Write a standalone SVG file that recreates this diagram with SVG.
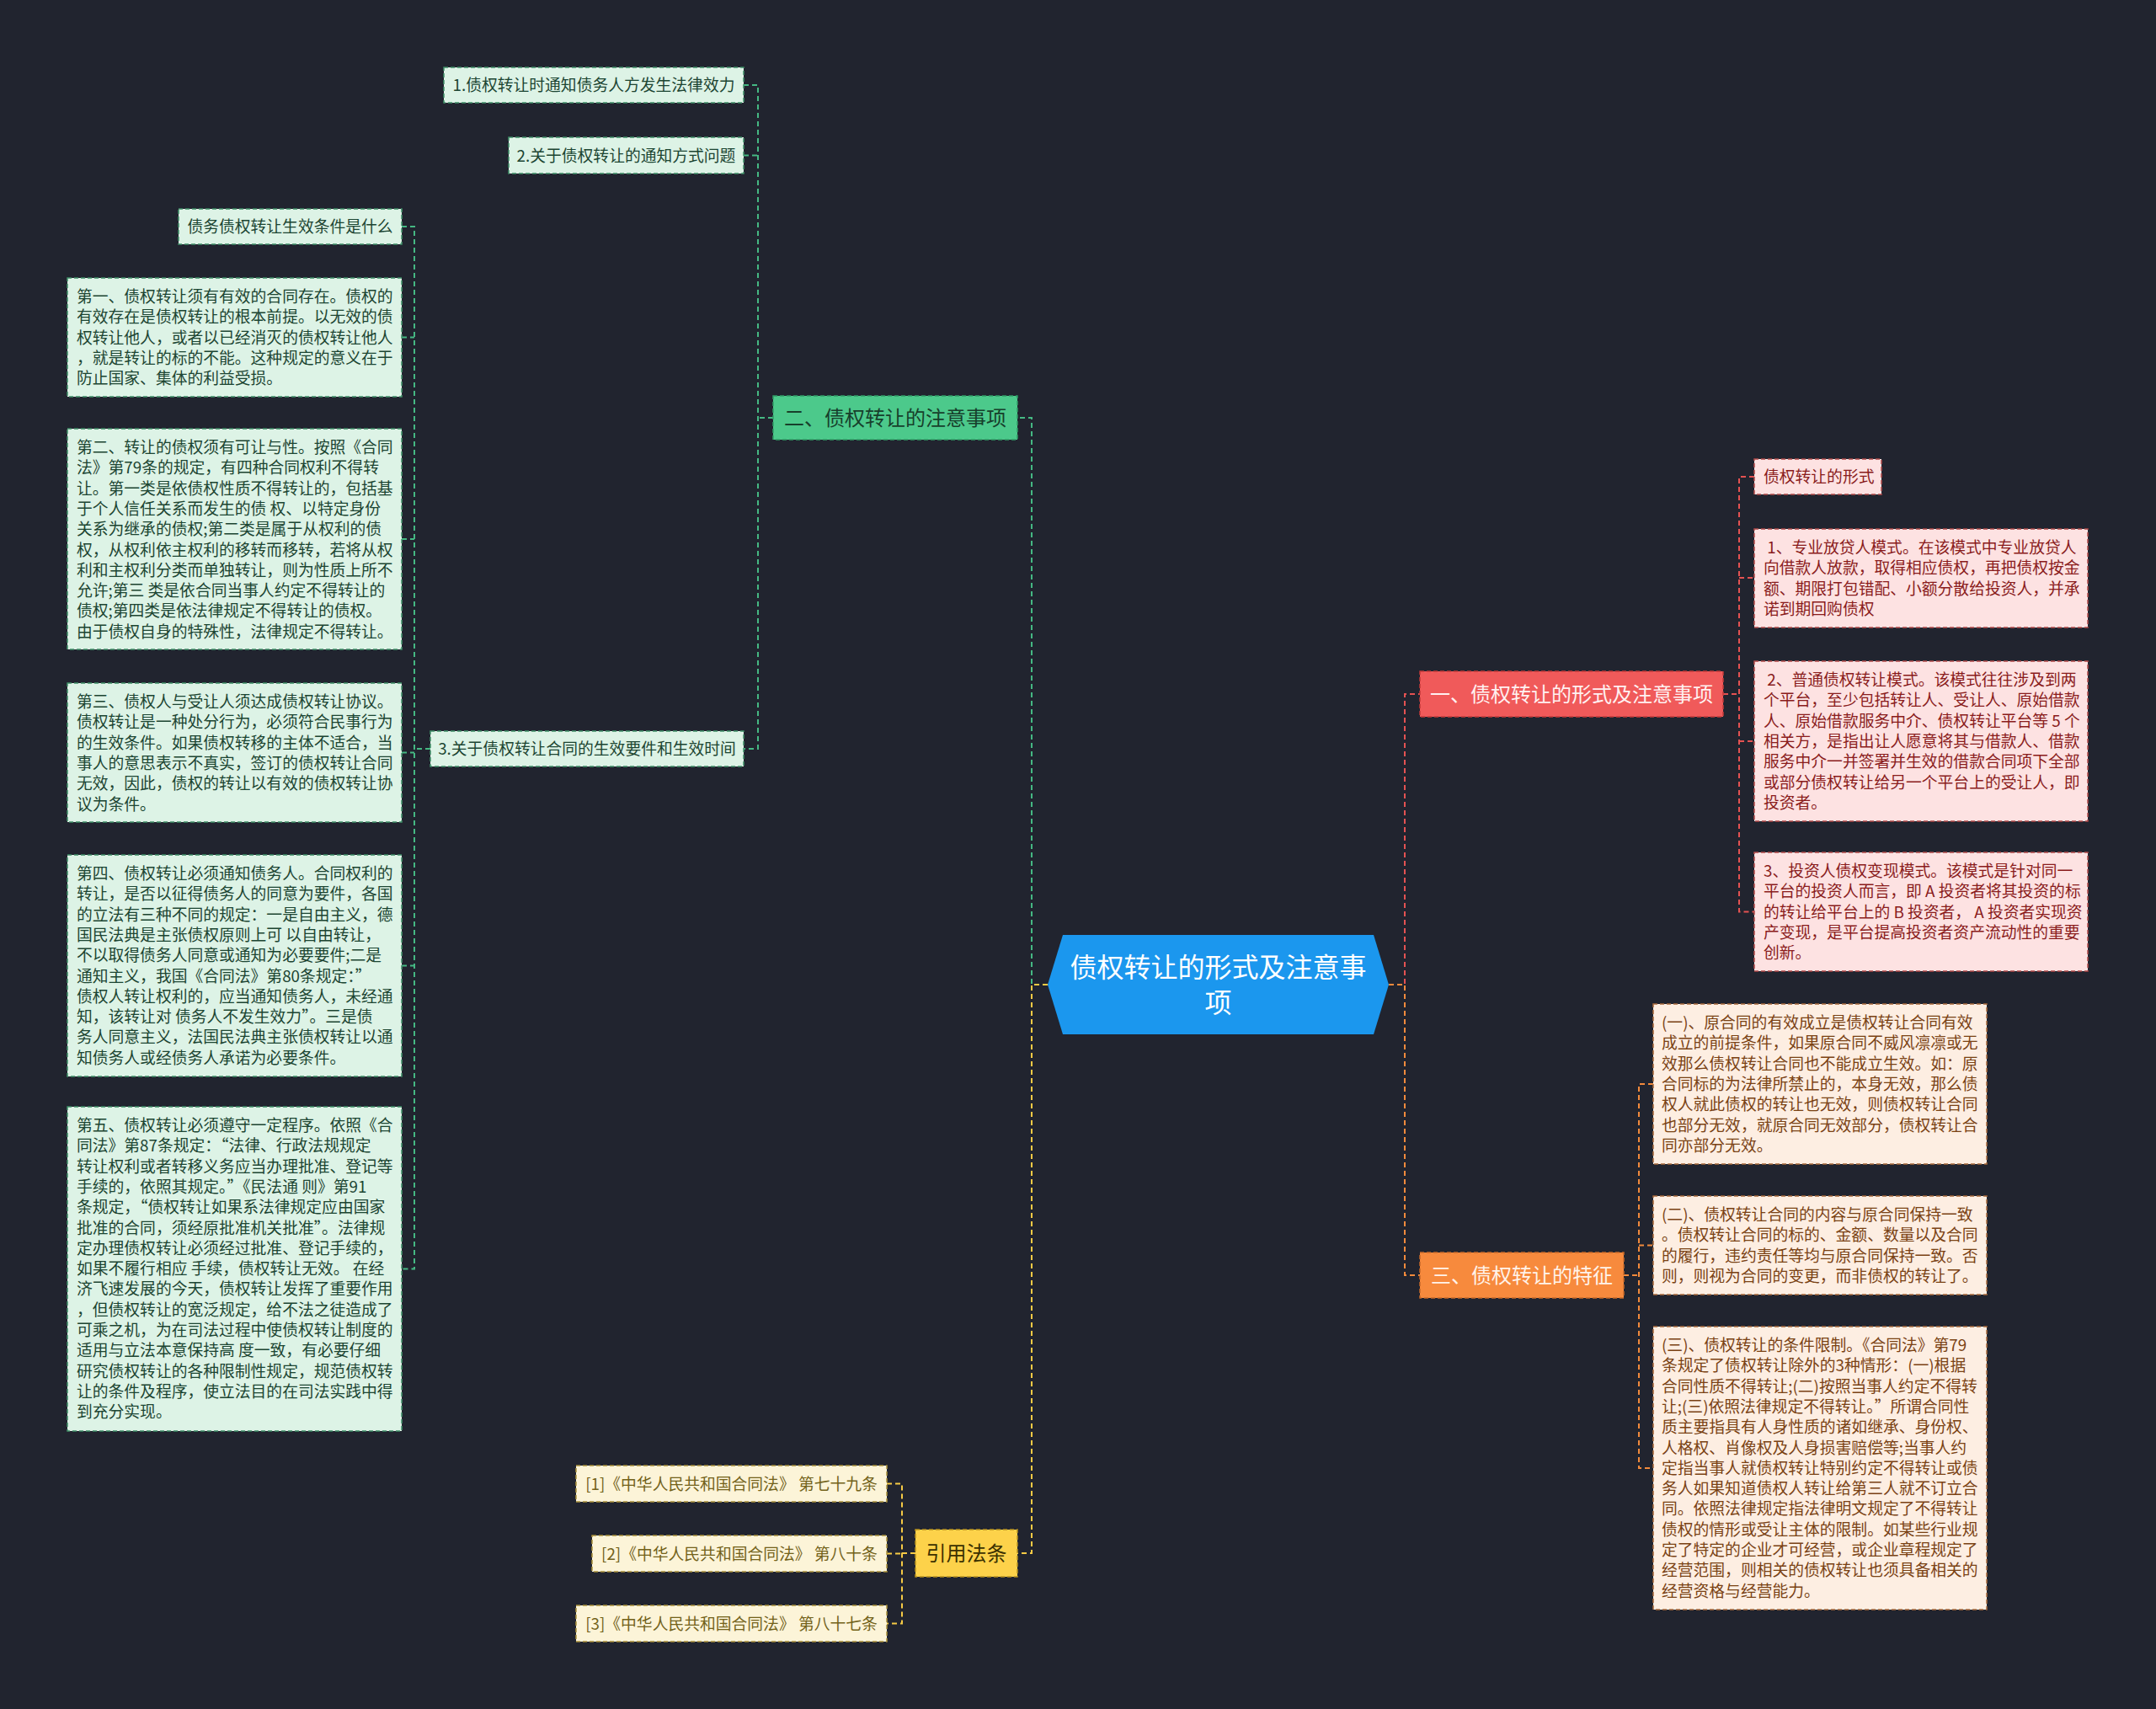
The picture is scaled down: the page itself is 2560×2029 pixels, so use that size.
<svg xmlns="http://www.w3.org/2000/svg" width="2560" height="2029" viewBox="0 0 2560 2029">
<style>
text{font-family:"Noto Sans CJK SC","Noto Sans",sans-serif;white-space:pre}
.lf{font-size:18.8px}
.br{font-size:24px}
.c{text-anchor:middle}
.gL rect{fill:#ddf3e6;stroke:#3f8f68;stroke-width:1.5;stroke-dasharray:5 3}
.gL text{fill:#1c4532}
.rL rect{fill:#fde2e2;stroke:#b04a4a;stroke-width:1.5;stroke-dasharray:5 3}
.rL text{fill:#8a1c1c}
.oL rect{fill:#fdeee2;stroke:#a86a3c;stroke-width:1.5;stroke-dasharray:5 3}
.oL text{fill:#7a4214}
.yL rect{fill:#fcf4d8;stroke:#a88f3a;stroke-width:1.5;stroke-dasharray:5 3}
.yL text{fill:#73621a}
.con path{fill:none;stroke-width:2;stroke-dasharray:6 4}
.cg{stroke:#45b883}.cr{stroke:#e45252}.co{stroke:#f28a3c}.cy{stroke:#f6ca45}
</style>
<rect x="0" y="0" width="2560" height="2029" fill="#21242f"/>

<g id="connectors" class="con">
<path class="cg" d="M1244 1169H1225V496H1208"/>
<path class="cy" d="M1244 1169H1225V1844H1208"/>
<path class="cr" d="M1649 1169H1668V824H1686"/>
<path class="co" d="M1649 1169H1668V1514H1686"/>
<path class="cg" d="M918 496H900M883 101H900V889H883M883 184.5H900"/>
<path class="cg" d="M511 889H492M477 269H492V1506.5H477M477 400.5H492M477 640H492M477 893.5H492M477 1146.5H492"/>
<path class="cr" d="M2046 824H2065M2083 566H2065V1082.5H2083M2065 686H2083M2065 880H2083"/>
<path class="co" d="M1928 1514H1946M1963 1287H1946V1743H1963M1946 1478.5H1963"/>
<path class="cy" d="M1087 1844H1071M1053 1761.5H1071V1927.5H1053M1053 1844.5H1071"/>
</g>

<g id="center">
<polygon points="1262,1110 1631,1110 1649,1169 1631,1228 1262,1228 1244,1169" fill="#1b97ee"/>
<text x="1446.5" y="1160" class="c" font-size="32" fill="#ffffff">债权转让的形式及注意事</text>
<text x="1446.5" y="1202" class="c" font-size="32" fill="#ffffff">项</text>
</g>

<g id="branch-green">
<rect x="918" y="470" width="290" height="52" fill="#4cc98b" stroke="#2f9a66" stroke-width="1.5" stroke-dasharray="5 3"/>
<text x="1063" y="505" class="br c" fill="#173f2b">二、债权转让的注意事项</text>
</g>
<g id="branch-red">
<rect x="1686" y="797" width="360" height="54" fill="#f05a5a" stroke="#c23a3a" stroke-width="1.5" stroke-dasharray="5 3"/>
<text x="1866" y="833" class="br c" fill="#fff1f1">一、债权转让的形式及注意事项</text>
</g>
<g id="branch-orange">
<rect x="1686" y="1487" width="242" height="54" fill="#f78a3d" stroke="#c8692a" stroke-width="1.5" stroke-dasharray="5 3"/>
<text x="1807" y="1523" class="br c" fill="#fff3ea">三、债权转让的特征</text>
</g>
<g id="branch-yellow">
<rect x="1087" y="1816" width="121" height="56" fill="#fdd24a" stroke="#b8931f" stroke-width="1.5" stroke-dasharray="5 3"/>
<text x="1147.5" y="1853" class="br c" fill="#3b3000">引用法条</text>
</g>

<g id="g-1" class="gL"><rect x="527" y="80" width="356" height="42"/><text x="705" y="108" class="lf c">1.债权转让时通知债务人方发生法律效力</text></g>
<g id="g-2" class="gL"><rect x="604" y="163" width="279" height="43"/><text x="743.5" y="191.5" class="lf c">2.关于债权转让的通知方式问题</text></g>
<g id="g-3" class="gL"><rect x="511" y="868" width="372" height="42"/><text x="697" y="896" class="lf c">3.关于债权转让合同的生效要件和生效时间</text></g>
<g id="g-q" class="gL"><rect x="212" y="248" width="265" height="42"/><text x="344.5" y="276" class="lf c">债务债权转让生效条件是什么</text></g>

<g id="g-b1" class="gL"><rect x="80" y="330" width="397" height="141"/>
<text class="lf" x="91" y="359"><tspan x="91">第一、债权转让须有有效的合同存在。债权的</tspan><tspan x="91" dy="24.3">有效存在是债权转让的根本前提。以无效的债</tspan><tspan x="91" dy="24.3">权转让他人，或者以已经消灭的债权转让他人</tspan><tspan x="91" dy="24.3">，就是转让的标的不能。这种规定的意义在于</tspan><tspan x="91" dy="24.3">防止国家、集体的利益受损。</tspan></text></g>

<g id="g-b2" class="gL"><rect x="80" y="509" width="397" height="262"/>
<text class="lf" x="91" y="538"><tspan x="91">第二、转让的债权须有可让与性。按照《合同</tspan><tspan x="91" dy="24.3">法》第79条的规定，有四种合同权利不得转</tspan><tspan x="91" dy="24.3">让。第一类是依债权性质不得转让的，包括基</tspan><tspan x="91" dy="24.3">于个人信任关系而发生的债 权、以特定身份</tspan><tspan x="91" dy="24.3">关系为继承的债权;第二类是属于从权利的债</tspan><tspan x="91" dy="24.3">权，从权利依主权利的移转而移转，若将从权</tspan><tspan x="91" dy="24.3">利和主权利分类而单独转让，则为性质上所不</tspan><tspan x="91" dy="24.3">允许;第三 类是依合同当事人约定不得转让的</tspan><tspan x="91" dy="24.3">债权;第四类是依法律规定不得转让的债权。</tspan><tspan x="91" dy="24.3">由于债权自身的特殊性，法律规定不得转让。</tspan></text></g>

<g id="g-b3" class="gL"><rect x="80" y="811" width="397" height="165"/>
<text class="lf" x="91" y="840"><tspan x="91">第三、债权人与受让人须达成债权转让协议。</tspan><tspan x="91" dy="24.3">债权转让是一种处分行为，必须符合民事行为</tspan><tspan x="91" dy="24.3">的生效条件。如果债权转移的主体不适合，当</tspan><tspan x="91" dy="24.3">事人的意思表示不真实，签订的债权转让合同</tspan><tspan x="91" dy="24.3">无效，因此，债权的转让以有效的债权转让协</tspan><tspan x="91" dy="24.3">议为条件。</tspan></text></g>

<g id="g-b4" class="gL"><rect x="80" y="1015" width="397" height="263"/>
<text class="lf" x="91" y="1044"><tspan x="91">第四、债权转让必须通知债务人。合同权利的</tspan><tspan x="91" dy="24.3">转让，是否以征得债务人的同意为要件，各国</tspan><tspan x="91" dy="24.3">的立法有三种不同的规定：一是自由主义，德</tspan><tspan x="91" dy="24.3">国民法典是主张债权原则上可 以自由转让，</tspan><tspan x="91" dy="24.3">不以取得债务人同意或通知为必要要件;二是</tspan><tspan x="91" dy="24.3">通知主义，我国《合同法》第80条规定：”</tspan><tspan x="91" dy="24.3">债权人转让权利的，应当通知债务人，未经通</tspan><tspan x="91" dy="24.3">知，该转让对 债务人不发生效力”。三是债</tspan><tspan x="91" dy="24.3">务人同意主义，法国民法典主张债权转让以通</tspan><tspan x="91" dy="24.3">知债务人或经债务人承诺为必要条件。</tspan></text></g>

<g id="g-b5" class="gL"><rect x="80" y="1314" width="397" height="385"/>
<text class="lf" x="91" y="1343"><tspan x="91">第五、债权转让必须遵守一定程序。依照《合</tspan><tspan x="91" dy="24.3">同法》第87条规定：“法律、行政法规规定</tspan><tspan x="91" dy="24.3">转让权利或者转移义务应当办理批准、登记等</tspan><tspan x="91" dy="24.3">手续的，依照其规定。”《民法通 则》第91</tspan><tspan x="91" dy="24.3">条规定，“债权转让如果系法律规定应由国家</tspan><tspan x="91" dy="24.3">批准的合同，须经原批准机关批准”。法律规</tspan><tspan x="91" dy="24.3">定办理债权转让必须经过批准、登记手续的，</tspan><tspan x="91" dy="24.3">如果不履行相应 手续，债权转让无效。 在经</tspan><tspan x="91" dy="24.3">济飞速发展的今天，债权转让发挥了重要作用</tspan><tspan x="91" dy="24.3">，但债权转让的宽泛规定，给不法之徒造成了</tspan><tspan x="91" dy="24.3">可乘之机，为在司法过程中使债权转让制度的</tspan><tspan x="91" dy="24.3">适用与立法本意保持高 度一致，有必要仔细</tspan><tspan x="91" dy="24.3">研究债权转让的各种限制性规定，规范债权转</tspan><tspan x="91" dy="24.3">让的条件及程序，使立法目的在司法实践中得</tspan><tspan x="91" dy="24.3">到充分实现。</tspan></text></g>

<g id="r-0" class="rL"><rect x="2083" y="545" width="151" height="42"/><text x="2094" y="573" class="lf">债权转让的形式</text></g>

<g id="r-1" class="rL"><rect x="2083" y="628" width="396" height="117"/>
<text class="lf" x="2094" y="657"><tspan x="2094"> 1、专业放贷人模式。在该模式中专业放贷人</tspan><tspan x="2094" dy="24.3">向借款人放款，取得相应债权，再把债权按金</tspan><tspan x="2094" dy="24.3">额、期限打包错配、小额分散给投资人，并承</tspan><tspan x="2094" dy="24.3">诺到期回购债权</tspan></text></g>

<g id="r-2" class="rL"><rect x="2083" y="785" width="396" height="190"/>
<text class="lf" x="2094" y="814"><tspan x="2094"> 2、普通债权转让模式。该模式往往涉及到两</tspan><tspan x="2094" dy="24.3">个平台，至少包括转让人、受让人、原始借款</tspan><tspan x="2094" dy="24.3">人、原始借款服务中介、债权转让平台等 5 个</tspan><tspan x="2094" dy="24.3">相关方，是指出让人愿意将其与借款人、借款</tspan><tspan x="2094" dy="24.3">服务中介一并签署并生效的借款合同项下全部</tspan><tspan x="2094" dy="24.3">或部分债权转让给另一个平台上的受让人，即</tspan><tspan x="2094" dy="24.3">投资者。</tspan></text></g>

<g id="r-3" class="rL"><rect x="2083" y="1012" width="396" height="141"/>
<text class="lf" x="2094" y="1041"><tspan x="2094">3、投资人债权变现模式。该模式是针对同一</tspan><tspan x="2094" dy="24.3">平台的投资人而言，即 A 投资者将其投资的标</tspan><tspan x="2094" dy="24.3">的转让给平台上的 B 投资者， A 投资者实现资</tspan><tspan x="2094" dy="24.3">产变现，是平台提高投资者资产流动性的重要</tspan><tspan x="2094" dy="24.3">创新。</tspan></text></g>

<g id="o-1" class="oL"><rect x="1963" y="1192" width="396" height="190"/>
<text class="lf" x="1973" y="1221"><tspan x="1973">(一)、原合同的有效成立是债权转让合同有效</tspan><tspan x="1973" dy="24.3">成立的前提条件，如果原合同不威风凛凛或无</tspan><tspan x="1973" dy="24.3">效那么债权转让合同也不能成立生效。如：原</tspan><tspan x="1973" dy="24.3">合同标的为法律所禁止的，本身无效，那么债</tspan><tspan x="1973" dy="24.3">权人就此债权的转让也无效，则债权转让合同</tspan><tspan x="1973" dy="24.3">也部分无效，就原合同无效部分，债权转让合</tspan><tspan x="1973" dy="24.3">同亦部分无效。</tspan></text></g>

<g id="o-2" class="oL"><rect x="1963" y="1420" width="396" height="117"/>
<text class="lf" x="1973" y="1449"><tspan x="1973">(二)、债权转让合同的内容与原合同保持一致</tspan><tspan x="1973" dy="24.3">。债权转让合同的标的、金额、数量以及合同</tspan><tspan x="1973" dy="24.3">的履行，违约责任等均与原合同保持一致。否</tspan><tspan x="1973" dy="24.3">则，则视为合同的变更，而非债权的转让了。</tspan></text></g>

<g id="o-3" class="oL"><rect x="1963" y="1575" width="396" height="336"/>
<text class="lf" x="1973" y="1604"><tspan x="1973">(三)、债权转让的条件限制。《合同法》第79</tspan><tspan x="1973" dy="24.3">条规定了债权转让除外的3种情形：(一)根据</tspan><tspan x="1973" dy="24.3">合同性质不得转让;(二)按照当事人约定不得转</tspan><tspan x="1973" dy="24.3">让;(三)依照法律规定不得转让。”所谓合同性</tspan><tspan x="1973" dy="24.3">质主要指具有人身性质的诸如继承、身份权、</tspan><tspan x="1973" dy="24.3">人格权、肖像权及人身损害赔偿等;当事人约</tspan><tspan x="1973" dy="24.3">定指当事人就债权转让特别约定不得转让或债</tspan><tspan x="1973" dy="24.3">务人如果知道债权人转让给第三人就不订立合</tspan><tspan x="1973" dy="24.3">同。依照法律规定指法律明文规定了不得转让</tspan><tspan x="1973" dy="24.3">债权的情形或受让主体的限制。如某些行业规</tspan><tspan x="1973" dy="24.3">定了特定的企业才可经营，或企业章程规定了</tspan><tspan x="1973" dy="24.3">经营范围，则相关的债权转让也须具备相关的</tspan><tspan x="1973" dy="24.3">经营资格与经营能力。</tspan></text></g>

<g id="y-1" class="yL"><rect x="684" y="1740" width="369" height="43"/><text x="868.5" y="1768.5" class="lf c">[1]《中华人民共和国合同法》 第七十九条</text></g>
<g id="y-2" class="yL"><rect x="703" y="1823" width="350" height="43"/><text x="878" y="1851.5" class="lf c">[2]《中华人民共和国合同法》 第八十条</text></g>
<g id="y-3" class="yL"><rect x="684" y="1906" width="369" height="43"/><text x="868.5" y="1934.5" class="lf c">[3]《中华人民共和国合同法》 第八十七条</text></g>
</svg>
